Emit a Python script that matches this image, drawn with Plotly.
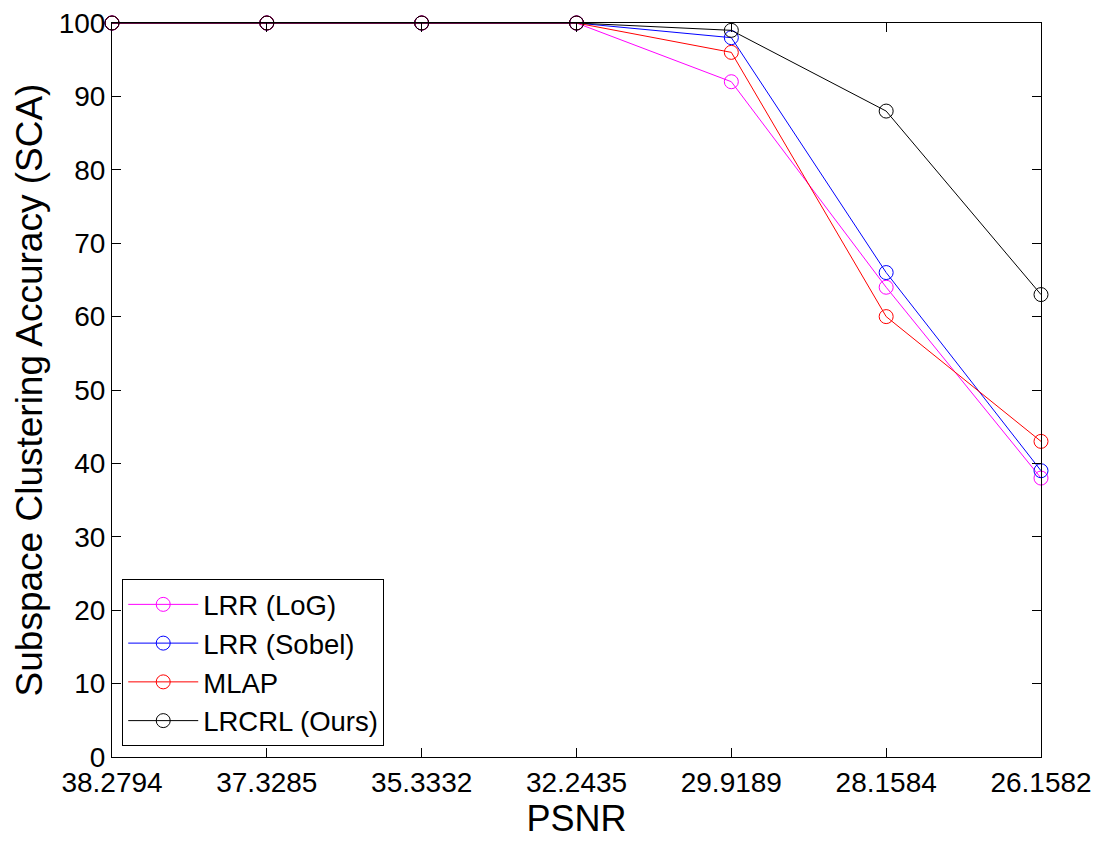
import plotly.graph_objects as go

psnr_labels = ["38.2794", "37.3285", "35.3332", "32.2435", "29.9189", "28.1584", "26.1582"]
lrr_log = [100, 100, 100, 100, 92, 64, 38]
lrr_sobel = [100, 100, 100, 100, 98, 66, 39]
mlap = [100, 100, 100, 100, 96, 60, 43]
lrcrl = [100, 100, 100, 100, 99, 88, 63]

series = [
    ("LRR (LoG)", lrr_log, "#ff00ff"),
    ("LRR (Sobel)", lrr_sobel, "#0000ff"),
    ("MLAP", mlap, "#ff0000"),
    ("LRCRL (Ours)", lrcrl, "#000000"),
]

xpos = list(range(len(psnr_labels)))
fig = go.Figure()
for name, vals, col in series:
    fig.add_trace(go.Scatter(
        x=xpos, y=vals, name=name, mode="lines+markers",
        line=dict(color=col, width=1),
        marker=dict(symbol="circle-open", size=14, color=col, line=dict(width=1, color=col)),
        cliponaxis=False,
    ))

font = "Liberation Sans, Arial, sans-serif"
fig.update_layout(
    width=1103, height=842,
    margin=dict(l=112, r=62, t=23, b=85),
    paper_bgcolor="white", plot_bgcolor="white",
    font=dict(family=font, color="black", size=28),
    showlegend=True,
    legend=dict(
        x=0.011, y=0.015, xanchor="left", yanchor="bottom",
        bordercolor="black", borderwidth=1, bgcolor="white",
        font=dict(size=27.5, family=font), tracegroupgap=0,
        itemwidth=70,
    ),
    xaxis=dict(
        range=[0, 6], tickvals=xpos, ticktext=psnr_labels,
        ticks="inside", ticklen=9, tickcolor="black", tickwidth=1,
        showline=True, linecolor="black", linewidth=1, mirror="ticks",
        showgrid=False, zeroline=False, automargin=False,
        tickfont=dict(size=28),
        title=dict(text="PSNR", font=dict(size=36), standoff=2),
    ),
    yaxis=dict(
        range=[0, 100], tickvals=list(range(0, 101, 10)),
        ticks="inside", ticklen=9, tickcolor="black", tickwidth=1,
        showline=True, linecolor="black", linewidth=1, mirror="ticks",
        showgrid=False, zeroline=False, automargin=False,
        tickfont=dict(size=28),
        title=dict(text="Subspace Clustering Accuracy (SCA)", font=dict(size=37), standoff=4),
    ),
)
fig.write_html("out.html")
